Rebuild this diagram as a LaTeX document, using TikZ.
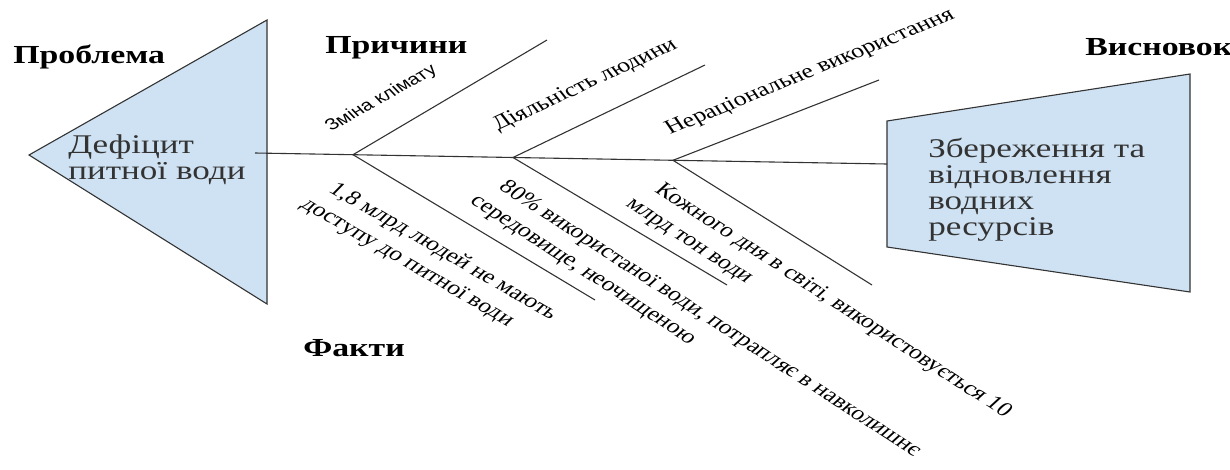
\documentclass[tikz,border=0pt]{standalone}
\usepackage{fontspec}
\setmainfont{Liberation Serif}
\newfontfamily\causesans{Liberation Sans}
\usepackage{xcolor}
\usepackage{tikz}
\definecolor{paleblue}{HTML}{CFE2F3}
\definecolor{ink}{HTML}{333333}
\tikzset{bone/.style={draw=ink,line width=1.1pt},
    plate/.style={fill=paleblue,draw=ink,line width=1.1pt},
    wide/.style={xscale=1.3},
    head/.style={wide,anchor=base west,inner sep=0,font=\bfseries\fontsize{26}{28}\selectfont},
    inbox/.style={wide,anchor=west,inner sep=0,align=left,text=ink,font=\fontsize{27}{26}\selectfont},
    cause/.style={wide,anchor=base west,inner sep=0,font=\fontsize{20}{24}\selectfont},
    fact/.style={wide,anchor=north west,inner sep=0,align=left,font=\fontsize{20}{25}\selectfont}}

\begin{document}
\begin{tikzpicture}[x=1pt,y=-1pt]
    \useasboundingbox (0,0) rectangle (1230,469);

    % head and tail
    \coordinate (pa) at (29,155);
    \coordinate (pb) at (267,20);
    \coordinate (pc) at (267,304);
    \draw[plate] (pa) -- (pb) -- (pc) -- cycle;
    \coordinate (ta) at (887,121);
    \coordinate (tb) at (1190,74);
    \coordinate (tc) at (1190,292);
    \coordinate (td) at (887,247);
    \draw[plate] (ta) -- (tb) -- (tc) -- (td) -- cycle;

    \node[inbox] (deficit) at (68,160) {Дефіцит\\питної води};
    \node[inbox] (saving) at (928,190) {Збереження та\\відновлення\\водних\\ресурсів};

    \node[head] (problem) at (13,63) {Проблема};
    \node[head] (causes) at (325,53) {Причини};
    \node[head] (facts) at (303,356) {Факти};
    \node[head] (result) at (1085,55) {Висновок};

    % spine
    \coordinate (s0) at (255,153);
    \coordinate (s1) at (887,164);
    \coordinate (j1) at (353,154.7);
    \coordinate (j2) at (513,157.5);
    \coordinate (j3) at (673,160.3);
    \draw[bone] (s0) -- (s1);

    % bones
    \coordinate (u1) at (547,40);
    \coordinate (u2) at (705,65);
    \coordinate (u3) at (879,80);
    \coordinate (l1) at (595,300);
    \coordinate (l2) at (727,285);
    \coordinate (l3) at (872,285);
    \draw[bone] (j1) -- (u1);
    \draw[bone] (j2) -- (u2);
    \draw[bone] (j3) -- (u3);
    \draw[bone] (j1) -- (l1);
    \draw[bone] (j2) -- (l2);
    \draw[bone] (j3) -- (l3);

    \node[cause,rotate=36,font=\causesans\fontsize{16}{20}\selectfont] (climate) at (331,132) {Зміна клімату};
    \node[cause,rotate=31] (people) at (498,131) {Діяльність людини};
    \node[cause,rotate=28] (waste) at (670,135) {Нераціональне використання};

    \node[fact,rotate=-37] (f1) at (330,175) {\hspace*{0.4em}1,8 млрд людей не мають\\доступу до питної води};
    \node[fact,rotate=-40] (f2) at (501,173) {\hspace*{0.4em}80\% використаної води, потрапляє в навколишнє\\середовище, неочищеною};
    \node[fact,rotate=-40] (f3) at (657,176) {\hspace*{0.4em}Кожного дня в світі, використовується 10\\млрд тон води};
\end{tikzpicture}
\end{document}
